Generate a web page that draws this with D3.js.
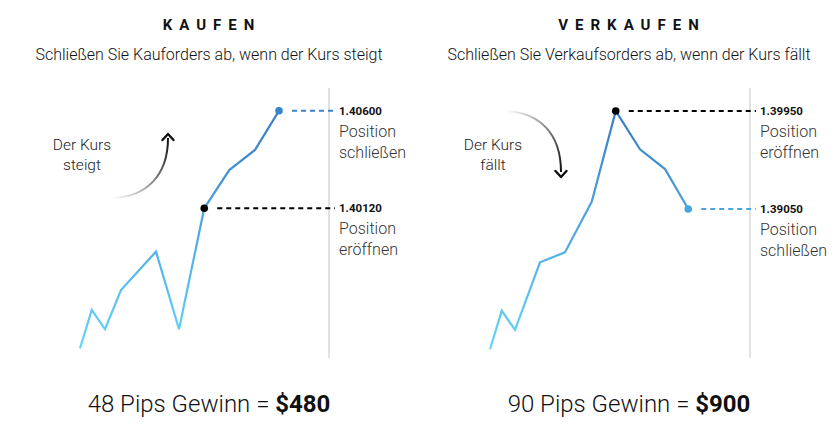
<!DOCTYPE html>
<html><head><meta charset="utf-8">
<script src="https://cdn.jsdelivr.net/npm/d3@7/dist/d3.min.js"></script>
<style>body{margin:0;background:#fff}svg{display:block;font-family:Roboto,"Noto Sans",sans-serif}</style>
</head><body><svg id="c" width="840" height="430"></svg>
<script>
// ---- data ----
const titles = ["KAUFEN", "VERKAUFEN"];
const subtitles = ["Schließen Sie Kauforders ab, wenn der Kurs steigt", "Schließen Sie Verkaufsorders ab, wenn der Kurs fällt"];
const trendLabels = [["Der Kurs", "steigt"], ["Der Kurs", "fällt"]];
const buyX = [0, 0.47, 1, 1.64, 3.04, 3.96, 4.97, 5.97, 7, 7.96];
const buyPrice = [1.39431, 1.39620, 1.39525, 1.39718, 1.39907, 1.39525, 1.40120, 1.40308, 1.40407, 1.40600];
const sellX = [0, 0.47, 1, 2, 3, 4.07, 5.03, 6, 7, 7.93];
const sellPrice = [1.37762, 1.38116, 1.37939, 1.38561, 1.38652, 1.39117, 1.39950, 1.39598, 1.39417, 1.39050];
const openIndex = [6, 6];
const closeIndex = [9, 9];
const openLabels = [["Position", "eröffnen"], ["Position", "eröffnen"]];
const closeLabels = [["Position", "schließen"], ["Position", "schließen"]];
const pips = [48, 90];
const profit = ["$480", "$900"];

const svg = d3.select("#c");
const defs = svg.append("defs");
const g0 = defs.append("linearGradient").attr("id","lg").attr("gradientUnits","userSpaceOnUse")
  .attr("x1",0).attr("y1",350).attr("x2",0).attr("y2",110);
g0.append("stop").attr("offset",0).attr("stop-color","#64d6fc");
g0.append("stop").attr("offset",1).attr("stop-color","#377bc3");

const panels = [
  {xs: buyX, ps: buyPrice, cx: 209, x0: 80, vline: 329, up: true},
  {xs: sellX, ps: sellPrice, cx: 629, x0: 490, vline: 750, up: false}
];

panels.forEach((p, k) => {
  const g = svg.append("g");
  const x = d3.scaleLinear().domain([0, 8]).range([p.x0, p.x0 + 200]);
  const o = openIndex[k], c = closeIndex[k];
  const hi = Math.max(p.ps[o], p.ps[c]), lo = Math.min(p.ps[o], p.ps[c]);
  const y = d3.scaleLinear().domain([lo, hi]).range([k === 0 ? 208.3 : 209, k === 0 ? 110.7 : 111]);

  g.append("text").attr("x", p.cx + 3).attr("y", 30).attr("text-anchor","middle")
    .attr("font-size", 15).attr("font-weight", 700).attr("letter-spacing", "7px").attr("fill","#111")
    .text(titles[k]);
  g.append("text").attr("x", p.cx).attr("y", 60).attr("text-anchor","middle")
    .attr("font-size", 16).attr("font-weight", 300).attr("fill","#111")
    .text(subtitles[k]);

  // vertical rule
  g.append("line").attr("x1", p.vline).attr("x2", p.vline).attr("y1", 88).attr("y2", 358)
    .attr("stroke", "#e2e2e2").attr("stroke-width", 2);

  // trend arrow
  const ag = defs.append("linearGradient").attr("id","ag"+k).attr("gradientUnits","userSpaceOnUse");
  if (p.up) {
    ag.attr("x1",112).attr("y1",198).attr("x2",168).attr("y2",140);
    ag.append("stop").attr("offset",0).attr("stop-color","#fff");
    ag.append("stop").attr("offset",1).attr("stop-color","#111");
    g.append("path").attr("d","M112,198 C146,197 168,176 168,138").attr("fill","none")
      .attr("stroke","url(#ag0)").attr("stroke-width",2);
    g.append("path").attr("d","M162.5,140 L168,134 L173.5,140").attr("fill","none")
      .attr("stroke","#111").attr("stroke-width",2.4).attr("stroke-linecap","round").attr("stroke-linejoin","round");
  } else {
    ag.attr("x1",505).attr("y1",111).attr("x2",561).attr("y2",170);
    ag.append("stop").attr("offset",0).attr("stop-color","#fff");
    ag.append("stop").attr("offset",1).attr("stop-color","#111");
    g.append("path").attr("d","M505,111 C540,112 561,134 561,172").attr("fill","none")
      .attr("stroke","url(#ag1)").attr("stroke-width",2);
    g.append("path").attr("d","M555.5,171 L561,177 L566.5,171").attr("fill","none")
      .attr("stroke","#111").attr("stroke-width",2.4).attr("stroke-linecap","round").attr("stroke-linejoin","round");
  }
  const tx = p.up ? 82 : 493;
  trendLabels[k].forEach((t, i) => {
    g.append("text").attr("x", tx).attr("y", 150 + i * 20).attr("text-anchor","middle")
      .attr("font-size", 15.5).attr("font-weight", 300).attr("fill","#222").text(t);
  });

  // price line
  const pts = p.xs.map((v, i) => [x(v), y(p.ps[i])]);
  g.append("path").attr("d", d3.line()(pts)).attr("fill","none")
    .attr("stroke","url(#lg)").attr("stroke-width",2.2).attr("stroke-linejoin","miter");

  // dashed levels
  const levels = [{i: o, open: true, labs: openLabels[k]}, {i: c, open: false, labs: closeLabels[k]}];
  levels.forEach(L => {
    const py = y(p.ps[L.i]), px = x(p.xs[L.i]);
    const col = L.open ? "#000" : (k === 0 ? "#3a84c8" : "#4aa5de");
    g.append("line").attr("x1", px + 13).attr("x2", p.vline + 6).attr("y1", py).attr("y2", py)
      .attr("stroke", col).attr("stroke-width", 2).attr("stroke-dasharray","5,4");
    g.append("circle").attr("cx", px).attr("cy", py).attr("r", 3.8).attr("fill", col);
    g.append("text").attr("x", p.vline + 10).attr("y", py + 4).attr("font-size", 11.5)
      .attr("font-weight", 700).attr("fill","#111").text(d3.format(".5f")(p.ps[L.i]));
    L.labs.forEach((t, j) => {
      g.append("text").attr("x", p.vline + 10).attr("y", py + 26 + j * 21).attr("font-size", 16)
        .attr("font-weight", 300).attr("fill","#333").text(t);
    });
  });

  // bottom summary
  const bt = g.append("text").attr("x", p.cx).attr("y", 412).attr("text-anchor","middle")
    .attr("font-size", 24).attr("fill","#111");
  bt.append("tspan").attr("font-weight", 300).text(pips[k] + " Pips Gewinn = ");
  bt.append("tspan").attr("font-weight", 700).text(profit[k]);
});
</script></body></html>
